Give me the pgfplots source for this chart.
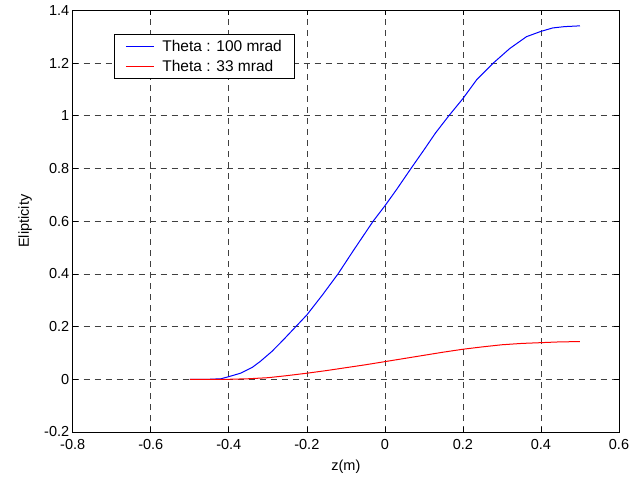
\documentclass[border=0pt]{standalone}
\usepackage{fontspec}
\setmainfont{Liberation Sans}
\usepackage{pgfplots}
\pgfplotsset{compat=1.18}

\begin{document}
\begin{tikzpicture}
\begin{axis}[
  name=ax,
  scale only axis,
  width=546.3pt,
  height=421.7pt,
  xmin=-0.8, xmax=0.6,
  ymin=-0.2, ymax=1.4,
  xtick={-0.8,-0.6,...,0.6},
  ytick={-0.2,0,...,1.4},
  /pgf/number format/assume math mode=true,
  /pgf/number format/fixed,
  /pgf/number format/precision=1,
  font=\fontsize{14.5}{16}\selectfont,
  tick align=inside,
  tick pos=both,
  major tick length=5pt,
  xticklabel style={yshift=-4pt},
  axis line style={line width=0.8pt},
  every tick/.style={black, line width=0.6pt},
  grid=major,
  major grid style={black!75, line width=0.6pt, dash pattern=on 6pt off 5pt},
  xlabel={z(m)},
  ylabel={Elipticity},
  xlabel style={at={(axis description cs:0.5,-0.083)}, anchor=center},
  ylabel style={at={(axis description cs:-0.087,0.5)}, anchor=center},
  legend cell align=left,
  legend style={at={(axis description cs:0.0756,0.9438)}, anchor=north west,
    draw=black, line width=0.8pt, inner xsep=11pt, inner ysep=3.5pt,
    font=\fontsize{15.5}{17}\selectfont, row sep=3.5pt},
  legend image code/.code={\draw[#1, line width=1pt] (0pt,0pt) -- (28pt,0pt); \path (34pt,0pt);},
]
\addplot[color=blue, line width=1pt] coordinates {
(-0.5,0) (-0.45,0) (-0.42,0.002) (-0.40,0.01) (-0.37,0.023) (-0.34,0.045)
(-0.32,0.067) (-0.29,0.105) (-0.26,0.15) (-0.23,0.197) (-0.2,0.244)
(-0.16,0.32) (-0.12,0.40) (-0.08,0.49) (-0.03,0.60) (0,0.658) (0.03,0.72)
(0.067,0.80) (0.1,0.87) (0.13,0.935) (0.164,1.0) (0.2,1.065) (0.235,1.136)
(0.278,1.2) (0.32,1.255) (0.363,1.30) (0.4,1.32) (0.43,1.333) (0.46,1.338)
(0.5,1.341)
};
\addlegendentry{Theta : 100 mrad}
\addplot[color=red, line width=1pt] coordinates {
(-0.5,0) (-0.4,0) (-0.35,0.002) (-0.3,0.006) (-0.25,0.014) (-0.2,0.023)
(-0.15,0.033) (-0.1,0.044) (-0.05,0.055) (0,0.067) (0.05,0.079) (0.1,0.091)
(0.15,0.103) (0.2,0.114) (0.25,0.123) (0.3,0.131) (0.35,0.136) (0.4,0.139)
(0.45,0.142) (0.5,0.143)
};
\addlegendentry{Theta : 33 mrad}
\end{axis}
\pgfresetboundingbox
\path ([shift={(-72.7pt,-45pt)}]ax.south west) rectangle ([shift={(21pt,10.3pt)}]ax.north east);
\end{tikzpicture}
\end{document}
